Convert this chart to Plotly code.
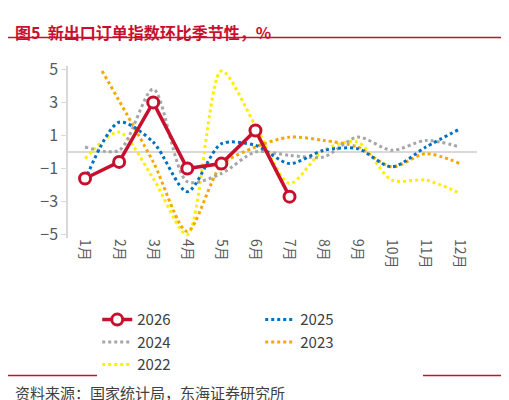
import plotly.graph_objects as go

months = ["1月", "2月", "3月", "4月", "5月", "6月", "7月", "8月", "9月", "10月", "11月", "12月"]
x_all = list(range(1, 13))

v2026 = [-1.6, -0.6, 3.0, -1.0, -0.7, 1.3, -2.7]
v2025 = [-1.7, 1.8, 0.6, -2.4, 0.5, 0.4, -0.7, 0.1, 0.2, -0.9, 0.3, 1.4]
v2024 = [0.3, 0.1, 3.8, -1.8, -1.3, 0.0, -0.2, -0.3, 0.9, 0.1, 0.7, 0.3]
x2023 = [1.5, 3, 4, 5, 6, 7, 8, 9, 10, 11, 12]
v2023 = [4.9, -0.6, -4.8, -0.8, 0.3, 0.9, 0.7, 0.3, -0.9, -0.1, -0.7]
v2022 = [-0.4, 1.2, -1.6, -5.0, 4.9, 1.6, -1.9, 0.1, 0.6, -1.7, -1.7, -2.5]

fig = go.Figure()

def dotted(name, x, y, color, rank):
    fig.add_trace(go.Scatter(x=x, y=y, name=name, mode="lines", legendrank=rank,
                             line=dict(color=color, width=3, dash="dot", shape="spline", smoothing=0.8)))

dotted("2022", x_all, v2022, "#FFEE00", 5)
dotted("2023", x2023, v2023, "#F5A800", 4)
dotted("2024", x_all, v2024, "#A6A6A6", 3)
dotted("2025", x_all, v2025, "#0070C0", 2)
fig.add_trace(go.Scatter(x=x_all[:7], y=v2026, name="2026", mode="lines+markers", legendrank=1,
                         line=dict(color="#C8102E", width=3.5),
                         marker=dict(symbol="circle", size=11, color="white",
                                     line=dict(color="#C8102E", width=3))))

fig.update_layout(
    width=509, height=400,
    paper_bgcolor="white", plot_bgcolor="white",
    font=dict(family="Noto Sans CJK SC", size=14, color="#595959"),
    margin=dict(l=60, r=40, t=58, b=170),
    showlegend=True,
    legend=dict(orientation="h", x=0.47, xanchor="center", y=-0.38, yanchor="top",
                font=dict(size=15, color="#404040"), traceorder="normal", entrywidth=118),
    annotations=[
        dict(text="<b>图5  新出口订单指数环比季节性，%</b>", xref="paper", yref="paper",
             x=-0.134, y=1.28, xanchor="left", yanchor="top", showarrow=False,
             font=dict(size=16, color="#C8102E")),
        dict(text="资料来源：国家统计局，东海证券研究所", xref="paper", yref="paper",
             x=-0.134, y=-0.97, xanchor="left", yanchor="bottom", showarrow=False,
             font=dict(size=15, color="#404040")),
    ],
    shapes=[
        dict(type="line", xref="paper", yref="paper", x0=-0.147, x1=1.098, y0=1.165, y1=1.165,
             line=dict(color="#C8102E", width=1.5)),
        dict(type="line", xref="paper", yref="paper", x0=-0.147, x1=1.098, y0=-0.8, y1=-0.8,
             line=dict(color="#C8102E", width=1.5)),
    ],
)

fig.update_xaxes(range=[0.5, 12.5], tickvals=x_all, ticktext=months, tickangle=90,
                 showgrid=False, showline=False, zeroline=False,
                 tickfont=dict(size=14, color="#595959"))
fig.update_yaxes(range=[-5.2, 5.2], tickvals=[-5, -3, -1, 1, 3, 5], showgrid=False,
                 showline=True, linecolor="#D9D9D9", linewidth=1.5, ticks="outside",
                 tickcolor="#D9D9D9", ticklen=5,
                 zeroline=True, zerolinecolor="#D9D9D9", zerolinewidth=2,
                 tickfont=dict(size=16, color="#595959"))

fig.write_html("out.html")
